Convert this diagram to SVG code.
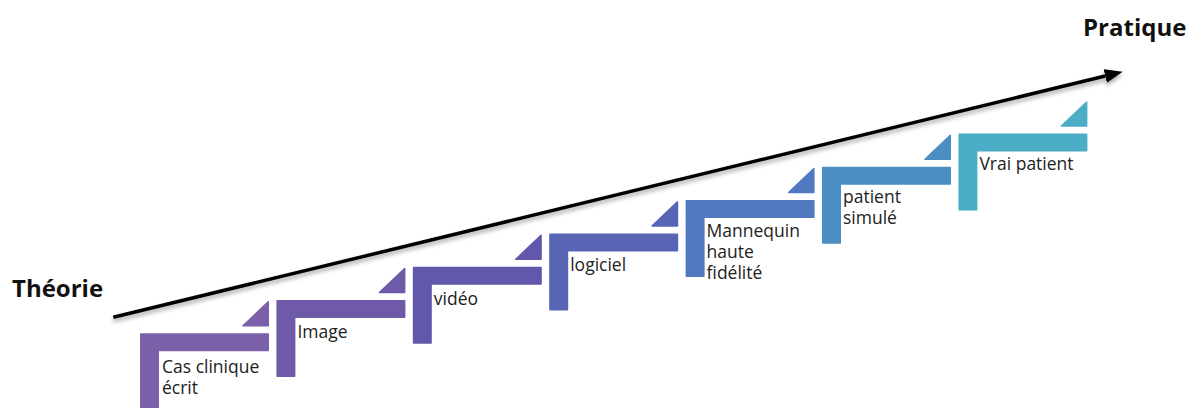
<svg xmlns="http://www.w3.org/2000/svg" width="1200" height="408" viewBox="0 0 1200 408">
<defs>
<style>
.lbl{font-family:"Open Sans","Liberation Sans",sans-serif;font-size:17.5px;fill:#222;}
.ttl{font-family:"Open Sans","Liberation Sans",sans-serif;font-size:24px;font-weight:bold;fill:#111;}
.shape{stroke-width:1.5;stroke-linejoin:round;}
</style>
<filter id="sh" x="-5%" y="-50%" width="110%" height="200%">
<feDropShadow dx="0" dy="3" stdDeviation="2" flood-color="#000" flood-opacity="0.35"/>
</filter>
<marker id="ah" markerUnits="userSpaceOnUse" markerWidth="20" markerHeight="16" refX="0" refY="7" orient="auto">
<path d="M0,0 L18,7 L0,14 Z" fill="#000"/>
</marker>
<path id="L" d="M0.75,0.75 H128.25 V17.25 H18.25 V76.25 H0.75 Z"/>
<path id="T" d="M103,-7.5 H128.25 V-31.5 Z"/>
</defs>
<g id="connectors">
<line x1="113.3" y1="317.3" x2="1105.2" y2="76" stroke="#000" stroke-width="3.5" marker-end="url(#ah)" filter="url(#sh)"/>
</g>
<g id="title-theorie"><text class="ttl" x="12" y="296.5">Théorie</text></g>
<g id="title-pratique"><text class="ttl" x="1083" y="36">Pratique</text></g>
<g id="step1" transform="translate(140,333.3)">
<use href="#L" class="shape" fill="#7b5fa8" stroke="#7b5fa8"/>
<use href="#T" class="shape" fill="#7b5fa8" stroke="#7b5fa8"/>
<text class="lbl" x="22" y="39.5">Cas clinique</text>
<text class="lbl" x="22" y="60.5">écrit</text>
</g>
<g id="step2" transform="translate(276.4,300)">
<use href="#L" class="shape" fill="#6f5aa9" stroke="#6f5aa9"/>
<use href="#T" class="shape" fill="#6f5aa9" stroke="#6f5aa9"/>
<text class="lbl" x="21" y="38">Image</text>
</g>
<g id="step3" transform="translate(412.8,266.7)">
<use href="#L" class="shape" fill="#6158ab" stroke="#6158ab"/>
<use href="#T" class="shape" fill="#6158ab" stroke="#6158ab"/>
<text class="lbl" x="21" y="38">vidéo</text>
</g>
<g id="step4" transform="translate(549.2,233.4)">
<use href="#L" class="shape" fill="#5865b4" stroke="#5865b4"/>
<use href="#T" class="shape" fill="#5865b4" stroke="#5865b4"/>
<text class="lbl" x="21" y="37.5">logiciel</text>
</g>
<g id="step5" transform="translate(685.6,200.1)">
<use href="#L" class="shape" fill="#5179bf" stroke="#5179bf"/>
<use href="#T" class="shape" fill="#5179bf" stroke="#5179bf"/>
<text class="lbl" x="21" y="37">Mannequin</text>
<text class="lbl" x="21" y="58">haute</text>
<text class="lbl" x="21" y="79">fidélité</text>
</g>
<g id="step6" transform="translate(822,166.8)">
<use href="#L" class="shape" fill="#4b8ec3" stroke="#4b8ec3"/>
<use href="#T" class="shape" fill="#4b8ec3" stroke="#4b8ec3"/>
<text class="lbl" x="21" y="36.5">patient</text>
<text class="lbl" x="21" y="57.5">simulé</text>
</g>
<g id="step7" transform="translate(958.4,133.5)">
<use href="#L" class="shape" fill="#4badc6" stroke="#4badc6"/>
<use href="#T" class="shape" fill="#4badc6" stroke="#4badc6"/>
<text class="lbl" x="21" y="36.5">Vrai patient</text>
</g>
</svg>
